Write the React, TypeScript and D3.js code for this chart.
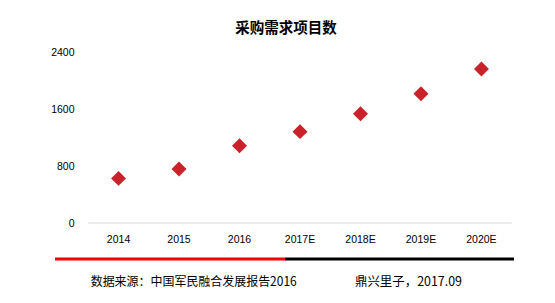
import React from "react";
import * as d3 from "d3";

const categories = ["2014", "2015", "2016", "2017E", "2018E", "2019E", "2020E"];
const values = [625, 757, 1082, 1280, 1530, 1810, 2158];
const yTicks = [0, 800, 1600, 2400];
const title = "采购需求项目数";
const sourceText = "数据来源：中国军民融合发展报告2016";
const creditText = "鼎兴里子，2017.09";

export default function App() {
  const W = 555, H = 303;
  const x = d3.scaleBand<string>().domain(categories).range([88.3, 511.7]);
  const y = d3.scaleLinear().domain([0, 2400]).range([223, 51.7]);
  const diamond = d3.symbol().type(d3.symbolSquare).size(112)();
  const numFont = "'Liberation Sans', Arial, sans-serif";
  const cjkFont = "'Noto Sans CJK SC', 'Liberation Sans', sans-serif";
  return (
    <svg width={W} height={H} style={{ position: "absolute", left: 0, top: 0, background: "#fff" }}>
      <rect width={W} height={H} fill="#fff" />
      <text x={286} y={26} textAnchor="middle" dominantBaseline="central" fontFamily={cjkFont} fontWeight="bold" fontSize={14.5} fill="#000">
        {title}
      </text>
      {yTicks.map((t) => (
        <text key={t} x={74.5} y={y(t)} textAnchor="end" dominantBaseline="central" fontFamily={numFont} fontSize={10.5} fill="#000">
          {t}
        </text>
      ))}
      <line x1={88.3} x2={511.7} y1={y(0)} y2={y(0)} stroke="#d9d9d9" strokeWidth={1} />
      {categories.map((c) => (
        <text key={c} x={(x(c) as number) + x.bandwidth() / 2} y={239} textAnchor="middle" dominantBaseline="central" fontFamily={numFont} fontSize={10.5} fill="#000">
          {c}
        </text>
      ))}
      {values.map((v, i) => (
        <path
          key={categories[i]}
          d={diamond as string}
          transform={`translate(${(x(categories[i]) as number) + x.bandwidth() / 2},${y(v)}) rotate(45)`}
          fill="#C9222B"
        />
      ))}
      <line x1={55} x2={285} y1={259} y2={259} stroke="#FF0000" strokeWidth={3} />
      <line x1={285} x2={514} y1={259} y2={259} stroke="#000" strokeWidth={3} />
      <text x={90.7} y={280} dominantBaseline="central" fontFamily={cjkFont} fontSize={12.5} fill="#000" textLength={206} lengthAdjust="spacingAndGlyphs">
        {sourceText}
      </text>
      <text x={355} y={280} dominantBaseline="central" fontFamily={cjkFont} fontSize={12.5} fill="#000" textLength={107} lengthAdjust="spacingAndGlyphs">
        {creditText}
      </text>
    </svg>
  );
}
